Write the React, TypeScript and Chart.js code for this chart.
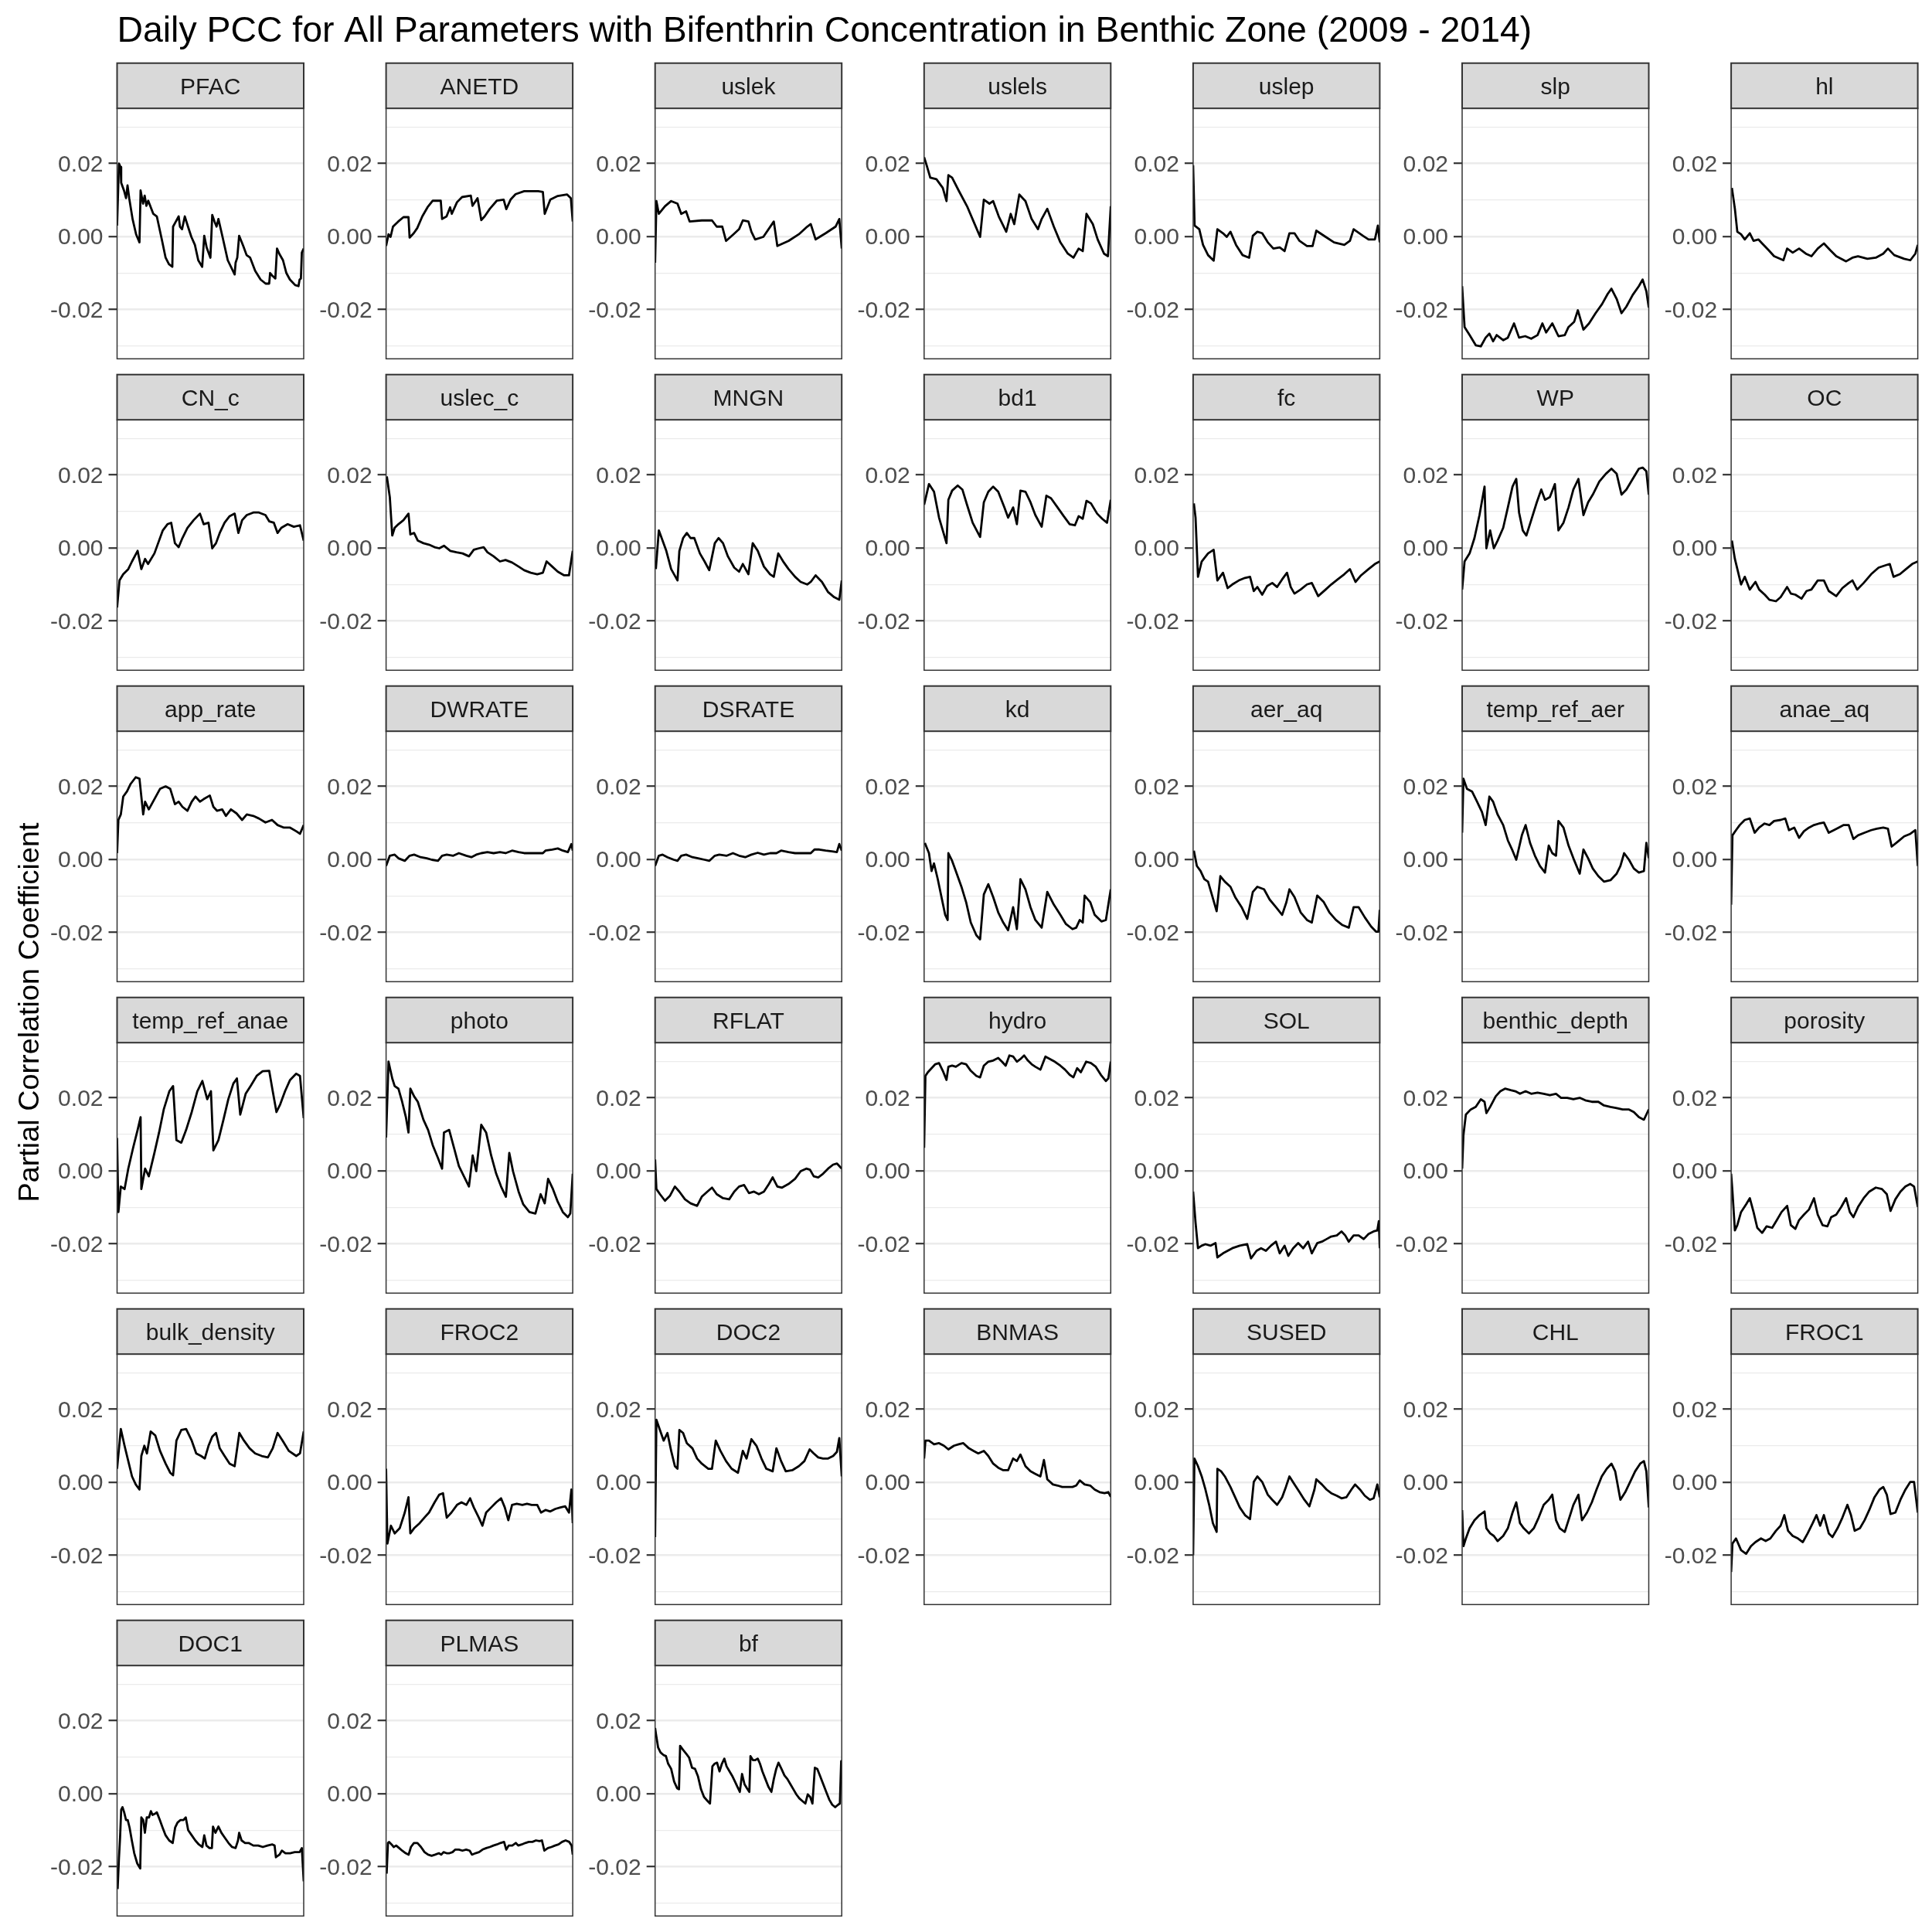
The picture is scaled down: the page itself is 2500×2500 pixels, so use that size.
import React, { useEffect, useRef } from "react";
import { Chart, registerables } from "chart.js";
Chart.register(...registerables);

type Pt = [number, number]; // [position along 2009-2014 period in %, partial correlation coefficient]

const TITLE = "Daily PCC for All Parameters with Bifenthrin Concentration in Benthic Zone (2009 - 2014)";
const Y_LABEL = "Partial Correlation Coefficient";
const Y_TICKS = [-0.03, -0.02, -0.01, 0, 0.01, 0.02, 0.03];
const Y_MIN = -0.0335;
const Y_MAX = 0.0351;

const PFAC: Pt[] = [[0,0.003],[1,0.020],[1.9,0.019],[2.2,0.0147],[3.7,0.0126],[4.8,0.0105],[5.6,0.014],[6.5,0.0105],[8.3,0.0048],[10.2,0.0006],[12,-0.0016],[12.6,0.0126],[13.9,0.009],[14.8,0.0112],[15.7,0.0084],[16.7,0.0098],[19.4,0.0062],[21.3,0.0055],[24,-0.0009],[26,-0.0058],[27.8,-0.0076],[29.6,-0.0083],[30,0.0027],[31.5,0.0041],[33,0.0055],[33.7,0.0027],[34.8,0.002],[36.3,0.0055],[38,0.0027],[39.8,-0.0001],[41.7,-0.0023],[43.5,-0.0065],[45.6,-0.0083],[46.7,0.0002],[48,-0.003],[50,-0.0058],[51,0.0059],[52.2,0.0041],[53.3,0.0027],[54.3,0.0048],[56.5,-0.0001],[59.3,-0.0065],[63,-0.0104],[63.5,-0.0072],[64.4,-0.0058],[65.4,0.0002],[67.6,-0.0026],[69.4,-0.0051],[71.3,-0.0058],[74,-0.0094],[76.9,-0.0118],[79.6,-0.0129],[81.5,-0.0129],[82,-0.01],[83.3,-0.0108],[84.8,-0.0115],[85.7,-0.0033],[87,-0.0048],[88.9,-0.0065],[90.7,-0.01],[92.6,-0.0118],[95.4,-0.0133],[97.2,-0.0136],[97.8,-0.0118],[98.5,-0.0115],[99,-0.0044],[100,-0.0033]];
const ANETD: Pt[] = [[0,-0.0026],[1.3,0.0006],[2.4,-0.0001],[3.7,0.0027],[6.5,0.0041],[9.3,0.0053],[12,0.0053],[12.6,-0.0003],[14.8,0.0009],[16.7,0.0023],[19.4,0.0055],[22.2,0.008],[25,0.0098],[29.3,0.0098],[30,0.0048],[32.4,0.0055],[34.3,0.008],[35.2,0.0062],[38,0.0094],[40.7,0.0108],[45.4,0.0112],[46.3,0.0084],[49,0.0105],[51,0.0045],[52.8,0.0055],[55.6,0.0076],[59.3,0.0098],[63,0.0101],[64.4,0.0075],[66.7,0.0101],[69.4,0.0116],[74,0.0124],[81.5,0.0124],[84,0.0122],[85,0.0062],[88,0.0101],[92,0.0111],[97,0.0115],[99,0.0105],[100,0.0041]];
const USLEK: Pt[] = [[0,-0.0072],[0.7,0.0097],[2,0.0062],[5.3,0.0083],[8.6,0.0097],[12,0.009],[14,0.0062],[16.6,0.0069],[18.5,0.0041],[25,0.0044],[30.5,0.0044],[33,0.0027],[36,0.0027],[38,-0.0012],[42,0.0006],[45,0.002],[47,0.0044],[50,0.0041],[51.6,0.0013],[53.6,-0.0008],[58,-0.0001],[63.6,0.0041],[65.5,-0.0026],[71.5,-0.0012],[77,0.0006],[81.5,0.0027],[83.4,0.0034],[86,-0.0008],[91.4,0.0009],[96.7,0.0027],[98.7,0.0048],[100,-0.0033]];
const USLELS: Pt[] = [[0,0.0217],[1.3,0.0196],[3.3,0.0161],[6.6,0.0157],[10,0.0133],[12,0.0097],[13,0.0168],[15,0.0161],[18.5,0.0126],[23,0.0083],[26.5,0.0041],[30,-0.0001],[32,0.0101],[35,0.009],[37,0.0097],[40,0.0055],[44,0.0013],[46.4,0.0062],[48.3,0.0034],[51,0.0115],[54.3,0.0097],[57.6,0.0048],[61,0.002],[63,0.0048],[66,0.0076],[69.5,0.0027],[73,-0.0016],[77,-0.0047],[80,-0.0058],[82.8,-0.0033],[85,-0.004],[87,0.0062],[90.4,0.0034],[93,-0.0008],[96.4,-0.0047],[98.5,-0.0054],[100,0.0083]];
const USLEP: Pt[] = [[0,0.0195],[0.8,0.003],[3.3,0.002],[5.3,-0.0023],[8,-0.0051],[11,-0.0066],[13,0.002],[16,0.0009],[18,-0.0001],[20,0.0013],[23,-0.0023],[26.5,-0.0051],[30,-0.0058],[32,0.0002],[34.4,0.0013],[37,0.0009],[40,-0.0016],[43,-0.0033],[46.4,-0.003],[49,-0.004],[51.6,0.0009],[54.3,0.0009],[57,-0.0012],[61,-0.0026],[64,-0.0026],[66,0.0016],[71,-0.0001],[75.5,-0.0016],[81,-0.0023],[84,-0.0012],[86,0.002],[91,0.0002],[94,-0.0008],[97.4,-0.0008],[99,0.003],[100,-0.0016]];
const SLP: Pt[] = [[0,-0.0136],[1.3,-0.0248],[4,-0.027],[7.3,-0.0298],[10,-0.0301],[12.6,-0.0277],[14.6,-0.0266],[16.6,-0.0287],[18.5,-0.027],[22,-0.0284],[24.5,-0.0277],[27.8,-0.0238],[30.5,-0.0277],[33.8,-0.0273],[37,-0.028],[40.4,-0.027],[43,-0.0238],[45,-0.0263],[48.3,-0.0238],[51.6,-0.0273],[55,-0.027],[57,-0.0248],[60,-0.0234],[62,-0.0202],[65,-0.0255],[68,-0.0238],[71.5,-0.021],[75,-0.0185],[78,-0.0157],[80,-0.0143],[82.8,-0.0171],[85.4,-0.021],[88,-0.0192],[91.4,-0.016],[94.7,-0.0136],[96.7,-0.0118],[98.7,-0.015],[100,-0.0195]];
const HL: Pt[] = [[0.4,0.0133],[2,0.0076],[3.3,0.0013],[5.3,0.0006],[7.3,-0.0008],[10,0.0009],[12,-0.0012],[14.6,-0.0008],[16.6,-0.0019],[20,-0.0037],[23,-0.0054],[28,-0.0065],[30,-0.0033],[33,-0.0044],[36.4,-0.0033],[40,-0.0047],[43,-0.0054],[46.4,-0.0033],[49.7,-0.0019],[53,-0.0037],[56.3,-0.0054],[61.6,-0.0068],[65,-0.0058],[68,-0.0054],[73,-0.0061],[77.5,-0.0058],[81.5,-0.0047],[84,-0.0033],[87.4,-0.0051],[92.7,-0.0061],[96,-0.0065],[98.7,-0.0047],[100,-0.0023]];

const CN_C: Pt[] = [[0,-0.0163],[1.3,-0.0089],[3.3,-0.0072],[6,-0.0058],[8,-0.0037],[11,-0.0008],[13,-0.0058],[15,-0.003],[16.6,-0.0044],[20,-0.0015],[22,0.0013],[24.5,0.0048],[27,0.0065],[29,0.0069],[31,0.0013],[33,0.0002],[35,0.0027],[37.7,0.0055],[41,0.0076],[44.4,0.0094],[46.4,0.0065],[49,0.0069],[51,-0.0001],[53,0.0013],[55,0.0041],[57.6,0.0069],[60.3,0.0087],[63,0.0094],[65,0.0041],[67,0.0076],[69.5,0.009],[73,0.0097],[76,0.0097],[79.5,0.009],[81.5,0.0073],[84,0.0069],[86,0.0041],[88,0.0055],[91.4,0.0065],[94.7,0.0058],[98,0.0062],[100,0.002]];
const USLEC_C: Pt[] = [[0.4,0.0196],[2,0.0139],[3.3,0.0034],[4.6,0.0055],[6.6,0.0065],[9.3,0.0076],[12,0.0094],[13,0.0037],[15,0.0041],[17,0.002],[20,0.0013],[23,0.0009],[26,0.0002],[28.5,-0.0001],[31,0.0006],[34.4,-0.0008],[37.7,-0.0012],[41,-0.0015],[44.4,-0.0023],[47,-0.0005],[49.7,-0.0001],[52.3,0.0002],[54.3,-0.0012],[57.6,-0.0023],[61,-0.0037],[64,-0.0033],[67.5,-0.004],[71,-0.0051],[74,-0.0061],[77.5,-0.0068],[81,-0.0072],[84,-0.0068],[86,-0.0037],[89,-0.0051],[92,-0.0065],[95.4,-0.0075],[98,-0.0075],[100,-0.0008]];
const MNGN: Pt[] = [[0.4,-0.0058],[2,0.0048],[4,0.002],[6,-0.0008],[8.6,-0.0058],[12,-0.0089],[13,-0.0008],[15,0.0027],[17,0.0041],[19,0.0027],[21,0.0027],[24,-0.0015],[26.5,-0.0037],[29,-0.0061],[32,0.0013],[34,0.0027],[36.4,0.0013],[39,-0.0023],[42.4,-0.0054],[45,-0.0065],[47,-0.0044],[50,-0.0072],[52.3,0.0013],[55,-0.0008],[58.3,-0.0051],[61.6,-0.0072],[63.6,-0.0079],[66,-0.0015],[69,-0.004],[71.5,-0.0058],[75,-0.0079],[78,-0.0093],[81.5,-0.01],[83.4,-0.0093],[86,-0.0075],[89.4,-0.0093],[92.7,-0.0121],[96,-0.0135],[98.7,-0.0142],[100,-0.0089]];
const BD1: Pt[] = [[0,0.0118],[2.6,0.0175],[5.3,0.0154],[8,0.0083],[10,0.0048],[12,0.0013],[13,0.0132],[15,0.0157],[18,0.0171],[20.5,0.016],[23,0.0118],[26,0.0069],[30,0.003],[32,0.0125],[34.4,0.0154],[37,0.0168],[39.7,0.0154],[43,0.0111],[45,0.0083],[47.7,0.0111],[49.7,0.0065],[51.6,0.0157],[54.3,0.0154],[57,0.0125],[59.6,0.009],[63,0.0058],[65.5,0.0143],[68,0.0136],[71.5,0.0111],[74.8,0.0087],[78,0.0065],[80.8,0.0062],[82.8,0.0087],[85,0.008],[87,0.0129],[89.4,0.0122],[92.7,0.0094],[95.4,0.008],[98,0.0069],[100,0.0132]];
const FC: Pt[] = [[0.4,0.0122],[1.3,0.0083],[2.6,-0.0079],[4.6,-0.0037],[8,-0.0015],[11,-0.0005],[13,-0.0089],[16,-0.0068],[18.5,-0.011],[21,-0.01],[24.5,-0.0089],[27.8,-0.0082],[30.5,-0.0079],[32.5,-0.0118],[34.4,-0.0107],[37,-0.0128],[39.7,-0.0104],[42.4,-0.0096],[45,-0.0107],[47.7,-0.0086],[50.3,-0.0068],[52.3,-0.0107],[54.3,-0.0125],[57.6,-0.0114],[61,-0.01],[63.6,-0.0096],[67,-0.0132],[71,-0.0114],[74,-0.01],[77.5,-0.0086],[81,-0.0072],[84,-0.0058],[87,-0.0093],[90,-0.0075],[94,-0.0058],[97.4,-0.0044],[100,-0.0037]];
const WP: Pt[] = [[0,-0.0114],[1.3,-0.0037],[4,-0.0015],[6.6,0.0027],[9.3,0.009],[12,0.0168],[13,-0.0001],[15,0.0048],[17,-0.0001],[19,0.002],[22,0.0055],[24.5,0.0111],[27,0.0168],[29,0.0189],[30.5,0.0097],[32.5,0.0048],[34.4,0.0034],[37,0.0076],[40,0.0125],[42.4,0.016],[44.4,0.0132],[47,0.0139],[49.7,0.0175],[51.6,0.0048],[54.3,0.0069],[57,0.0111],[59.6,0.016],[62.3,0.0189],[65,0.009],[67.5,0.0125],[70,0.0146],[73.5,0.0182],[77,0.0203],[80,0.0217],[82.8,0.0203],[85.4,0.0146],[88,0.016],[91.4,0.0189],[94.7,0.0217],[96.7,0.022],[98.7,0.021],[100,0.0146]];
const OC: Pt[] = [[0.4,0.002],[2,-0.003],[4,-0.0072],[5.3,-0.01],[7.3,-0.0079],[10,-0.0114],[13,-0.0093],[15,-0.0114],[18,-0.0128],[20.5,-0.0142],[24,-0.0146],[26.5,-0.0135],[30,-0.0107],[32,-0.0125],[34.4,-0.0128],[37.7,-0.0139],[40.4,-0.0118],[43,-0.0114],[46.4,-0.0089],[49.7,-0.0089],[52.3,-0.0118],[56.3,-0.0132],[59.6,-0.011],[63,-0.0096],[65,-0.0089],[67.5,-0.0114],[71,-0.0096],[75,-0.0072],[79,-0.0054],[83,-0.0047],[85,-0.0044],[87,-0.0079],[90.4,-0.0072],[93.7,-0.0058],[97,-0.0044],[100,-0.0037]];

const APP_RATE: Pt[] = [[0,0.0017],[0.7,0.0108],[2,0.0123],[3.3,0.0172],[5.3,0.0186],[7.3,0.0207],[10,0.0225],[12,0.0221],[14,0.0123],[15,0.0158],[17,0.0137],[20,0.0165],[23,0.0193],[26,0.02],[28.5,0.0193],[31,0.0151],[33,0.0158],[35,0.0144],[37.7,0.0133],[40,0.0158],[42,0.0172],[44.4,0.0158],[46.4,0.0165],[49.7,0.0175],[51.6,0.0144],[53.6,0.0133],[56.3,0.0137],[58.3,0.0119],[61,0.0137],[64,0.0126],[67,0.0108],[69.5,0.0123],[73,0.0119],[76,0.0112],[79.5,0.0101],[83,0.0108],[86,0.0094],[89.4,0.0087],[92.7,0.0087],[96,0.0077],[98,0.007],[100,0.0094]];
const DWRATE: Pt[] = [[0,-0.0018],[2,0.001],[4.6,0.0013],[6.6,0.0003],[10,-0.0004],[12.6,0.001],[15,0.0013],[18.5,0.0006],[21.8,0.0003],[24.5,-0.0001],[27.8,-0.0004],[30,0.001],[32.5,0.0013],[36,0.001],[39,0.0017],[43,0.001],[45.7,0.0006],[48.3,0.0013],[51,0.0017],[54.3,0.002],[57.6,0.0017],[61,0.002],[64,0.0017],[67.5,0.0024],[71,0.002],[74,0.0017],[77.5,0.0017],[81,0.0017],[84,0.0017],[85.4,0.0024],[89,0.0027],[92,0.003],[94.7,0.0024],[97.4,0.002],[99.3,0.0042],[100,0.0024]];
const DSRATE: Pt[] = [[0,-0.0018],[2,0.001],[4,0.0013],[6.6,0.0006],[10,-0.0001],[12,-0.0004],[14,0.001],[16.6,0.0013],[20,0.0006],[23,0.0003],[26.5,-0.0001],[29,-0.0004],[32,0.001],[34.4,0.0013],[38.4,0.001],[41.7,0.0017],[45,0.001],[48.3,0.0006],[51.6,0.0013],[55,0.0018],[58.3,0.0013],[61.6,0.0017],[65,0.0017],[67.5,0.0024],[71.5,0.002],[75,0.0017],[78,0.0017],[81.5,0.0017],[83.4,0.0017],[85.4,0.0027],[88,0.0027],[91.4,0.0024],[94.7,0.0022],[97.4,0.002],[98.7,0.0042],[100,0.0024]];
const KD: Pt[] = [[0.4,0.0045],[2.6,0.0017],[4,-0.0032],[5.3,-0.0011],[7.3,-0.0054],[9.3,-0.0103],[11.3,-0.0152],[12.6,-0.0166],[13,0.0017],[15,-0.0004],[17,-0.0032],[20,-0.0075],[22.5,-0.0117],[25,-0.0173],[28,-0.0208],[30,-0.0219],[32,-0.0096],[34.4,-0.0068],[37,-0.0103],[39.7,-0.0145],[42.4,-0.0173],[45,-0.0194],[47.7,-0.0131],[49.7,-0.0191],[51.6,-0.0054],[54.3,-0.0082],[57,-0.0131],[59.6,-0.0166],[63,-0.0187],[66,-0.0089],[69.5,-0.0124],[73,-0.0152],[76,-0.0177],[79.5,-0.0191],[81.5,-0.0187],[83.4,-0.0166],[85,-0.0173],[86,-0.0099],[89,-0.0117],[91.4,-0.0152],[95,-0.017],[97.4,-0.0166],[100,-0.0082]];
const AER_AQ: Pt[] = [[0.4,0.0024],[2,-0.0018],[4,-0.0032],[6,-0.0054],[8,-0.0061],[10,-0.0096],[12.6,-0.0142],[14.6,-0.0046],[17,-0.0061],[20,-0.0075],[22.5,-0.0103],[26,-0.0131],[29,-0.0163],[32,-0.0089],[34.4,-0.0075],[38,-0.0082],[41,-0.011],[44.4,-0.0131],[47.7,-0.0152],[50,-0.0117],[51.6,-0.0082],[54.3,-0.0103],[57.6,-0.0145],[61,-0.0166],[63.6,-0.0173],[66.5,-0.0099],[70,-0.0117],[73,-0.0145],[76.5,-0.0166],[80,-0.018],[83.4,-0.0187],[86,-0.0131],[88.7,-0.0131],[92,-0.0159],[95.4,-0.0184],[98,-0.0198],[99.3,-0.0198],[100,-0.0138]];
const TEMP_REF_AER: Pt[] = [[0,0.0073],[0.7,0.0221],[2.6,0.0193],[5.3,0.0186],[8,0.0158],[10.6,0.013],[12.6,0.0094],[14.6,0.0172],[16.6,0.0158],[19,0.0123],[22,0.0094],[24.5,0.0052],[27,0.0024],[29,-0.0001],[32,0.0066],[34,0.0094],[36.4,0.0045],[39,0.001],[41.7,-0.0018],[44.4,-0.0036],[46.4,0.0038],[48.3,0.0017],[50.3,0.001],[51.6,0.0105],[54.3,0.0087],[57,0.0038],[59.6,0.0003],[63,-0.0039],[65,0.0027],[67.5,0.0003],[70,-0.0025],[73,-0.0046],[76,-0.0061],[79.5,-0.0057],[82.8,-0.0039],[84.8,-0.0018],[86.8,0.0017],[89.4,-0.0001],[92,-0.0025],[94.7,-0.0036],[97.4,-0.0032],[98.7,0.0045],[100,0.0003]];
const ANAE_AQ: Pt[] = [[0,-0.0124],[0.7,0.0066],[2.6,0.008],[4.6,0.0094],[7.3,0.0108],[10,0.0112],[12.6,0.0073],[15,0.0087],[17.9,0.0098],[20.5,0.0094],[23,0.0105],[26.5,0.0108],[29,0.0112],[31,0.008],[33.8,0.0087],[36.4,0.0059],[39,0.0077],[41.7,0.0087],[44.4,0.0094],[47,0.0098],[49.7,0.0101],[52.3,0.0073],[55,0.008],[57.6,0.0087],[60.3,0.0094],[63,0.0094],[65.5,0.0056],[68,0.0066],[71.5,0.0073],[75,0.008],[78,0.0084],[81.5,0.0087],[84,0.0084],[86,0.0035],[89.4,0.0049],[92.7,0.0063],[96,0.007],[98.7,0.008],[100,-0.0018]];

const TEMP_REF_ANAE: Pt[] = [[0,0.009],[0.7,-0.0113],[2,-0.0043],[4,-0.005],[6,0.0006],[8.6,0.0063],[11,0.0112],[12.6,0.0147],[13,-0.005],[15,0.0006],[17,-0.0015],[20,0.0049],[22.5,0.0105],[25,0.0168],[28,0.0218],[30,0.0232],[31.8,0.0084],[34.4,0.0077],[37,0.0112],[40,0.0161],[43,0.0218],[45.7,0.0246],[48.3,0.0196],[50.3,0.0218],[51.6,0.0056],[54.3,0.0084],[57,0.014],[59.6,0.0196],[62.3,0.0239],[64.2,0.0253],[66,0.0154],[68.9,0.0211],[71.5,0.0232],[74.8,0.026],[78,0.0273],[81.5,0.0274],[83.4,0.0218],[85.4,0.0161],[87.4,0.0182],[90,0.0218],[92.7,0.0249],[96,0.0266],[98,0.026],[100,0.0144]];
const PHOTO: Pt[] = [[0,0.0091],[1.3,0.0299],[3.3,0.0253],[4.6,0.0232],[6.6,0.0225],[8.6,0.0189],[10.6,0.0147],[12,0.0105],[13,0.0225],[15,0.0204],[17,0.0189],[20,0.014],[22.5,0.0112],[25,0.007],[27.8,0.0035],[30,0.0006],[31,0.0105],[33.8,0.0112],[36.4,0.0063],[39,0.0013],[41.7,-0.0015],[44.4,-0.0043],[46.4,0.0042],[48.3,-0.0001],[51,0.0126],[53.6,0.0105],[56.3,0.0042],[59,-0.0008],[61.6,-0.0043],[64.2,-0.0071],[66,0.0049],[68,-0.0001],[71,-0.0057],[73.5,-0.0092],[76.8,-0.0113],[80,-0.0117],[82.8,-0.0064],[85,-0.0089],[86.8,-0.0022],[89.4,-0.005],[92,-0.0085],[94.7,-0.0113],[97.4,-0.0127],[98.7,-0.0117],[100,-0.0008]];
const RFLAT: Pt[] = [[0,0.0031],[0.7,-0.005],[2.6,-0.0064],[5.3,-0.0082],[8,-0.0068],[10.6,-0.0043],[13,-0.0057],[16,-0.0078],[19,-0.0089],[22.5,-0.0096],[25,-0.0071],[28,-0.0057],[30.5,-0.0046],[33,-0.0064],[36.4,-0.0075],[39.7,-0.0078],[42.4,-0.0057],[45,-0.0043],[47.7,-0.0039],[50.3,-0.0061],[53,-0.0057],[55.6,-0.0064],[58.3,-0.0057],[61,-0.0036],[63,-0.0018],[65.5,-0.0043],[68,-0.0046],[71.5,-0.0036],[75,-0.0022],[78,-0.0001],[81,0.0006],[83,0.0003],[85,-0.0015],[87.4,-0.0018],[90,-0.0008],[92.7,0.0006],[95.4,0.0017],[97.4,0.002],[100,0.0006]];
const HYDRO: Pt[] = [[0,0.0063],[0.7,0.026],[2,0.027],[4,0.0281],[6,0.0292],[8,0.0295],[10,0.0274],[12,0.0249],[13,0.0285],[15,0.0288],[17,0.0285],[20,0.0295],[22.5,0.0292],[25,0.0274],[28,0.026],[30,0.0256],[32,0.0288],[34.4,0.0299],[37,0.0302],[39.7,0.0309],[41.7,0.0299],[43.7,0.0288],[45.7,0.0316],[47.7,0.0313],[49.7,0.0299],[51.6,0.0306],[53.6,0.0316],[55.6,0.0302],[57.6,0.0292],[59.6,0.0285],[62.3,0.0277],[65,0.0313],[67.5,0.0306],[70,0.0299],[73,0.0288],[75.5,0.0277],[78,0.0263],[80,0.0256],[82,0.0281],[84,0.027],[86.8,0.0299],[89.4,0.0295],[92,0.0285],[94.7,0.0263],[97.4,0.0246],[98.7,0.0253],[100,0.0299]];
const SOL: Pt[] = [[0,-0.0057],[1.3,-0.0142],[2.6,-0.0212],[4.6,-0.0205],[6.6,-0.0201],[9.3,-0.0205],[12,-0.0198],[13,-0.0237],[16,-0.0226],[18.5,-0.0219],[21,-0.0212],[25,-0.0205],[29,-0.0201],[31,-0.024],[34,-0.0219],[36.4,-0.0212],[39,-0.0219],[41.7,-0.0205],[44.4,-0.0194],[46.4,-0.0226],[49,-0.0205],[51,-0.0233],[53.6,-0.0212],[56.3,-0.0198],[59,-0.0212],[61.6,-0.0194],[63.6,-0.0226],[66.5,-0.0198],[69,-0.0194],[71.5,-0.0187],[74,-0.018],[77,-0.0177],[79.5,-0.0166],[81.5,-0.0177],[83.4,-0.0194],[86,-0.0177],[88.7,-0.0177],[91.4,-0.0187],[94,-0.0173],[96.7,-0.0166],[98.7,-0.0163],[99.5,-0.0138],[100,-0.0212]];
const BENTHIC_DEPTH: Pt[] = [[0,0.0006],[0.7,0.0098],[2,0.0154],[4.6,0.0168],[7.3,0.0175],[10,0.0196],[12,0.0189],[13,0.0158],[15,0.0175],[18,0.0204],[20.5,0.0218],[23,0.0225],[26,0.0221],[28.5,0.0218],[31,0.0211],[34,0.0218],[37,0.0211],[40.4,0.0214],[43.7,0.0211],[47,0.0207],[50.3,0.0211],[53,0.02],[56.3,0.02],[59.6,0.0196],[63,0.02],[66,0.0193],[69.5,0.0189],[73,0.0189],[76,0.0179],[79.5,0.0175],[82.8,0.0172],[86,0.0168],[89.4,0.0168],[92,0.0161],[94.7,0.0147],[97.4,0.014],[98.7,0.0154],[100,0.0168]];
const POROSITY: Pt[] = [[0,-0.0008],[0.7,-0.0057],[2,-0.0163],[3.3,-0.0149],[5.3,-0.0113],[8,-0.0092],[10,-0.0075],[12,-0.0113],[14,-0.0156],[16.6,-0.017],[19,-0.0152],[22,-0.0156],[24.5,-0.0135],[27,-0.0113],[30,-0.0096],[32,-0.0149],[34.4,-0.0159],[36.4,-0.0135],[39,-0.012],[41.7,-0.0106],[44.4,-0.0075],[46.4,-0.012],[49,-0.0149],[51.6,-0.0152],[53.6,-0.0127],[56.3,-0.012],[59,-0.0099],[61.6,-0.0075],[63.6,-0.0113],[65.5,-0.0127],[68,-0.0099],[71,-0.0075],[74,-0.0057],[77.5,-0.0046],[80.8,-0.005],[83.4,-0.0064],[85.4,-0.011],[88,-0.0078],[90.7,-0.0057],[93.4,-0.0043],[96,-0.0036],[98,-0.0043],[100,-0.0099]];

const BULK_DENSITY: Pt[] = [[0,0.0037],[2,0.0146],[4,0.01],[6,0.0058],[8,0.0016],[10,-0.0006],[12,-0.002],[13,0.0072],[14.6,0.01],[16,0.0079],[18,0.0139],[20.5,0.0128],[23,0.0086],[26,0.0051],[28.5,0.0026],[30,0.0019],[31.8,0.0114],[34.4,0.0143],[37,0.0146],[40,0.0114],[42.4,0.0079],[45,0.0072],[47,0.0065],[49,0.01],[51,0.0125],[53,0.0135],[55,0.0093],[57.6,0.0072],[60.3,0.0051],[63,0.0044],[65.5,0.0135],[68,0.0114],[71,0.0093],[74,0.0079],[77.5,0.0072],[80.8,0.0068],[83.4,0.0093],[86,0.0135],[88.7,0.0114],[92,0.0086],[96,0.0072],[98,0.0079],[100,0.0139]];
const FROC2: Pt[] = [[0,0.0037],[0.7,-0.0168],[2.6,-0.0119],[4.6,-0.014],[7.3,-0.0126],[10,-0.0083],[12,-0.0041],[13,-0.014],[15,-0.0126],[18,-0.0112],[20.5,-0.0097],[23,-0.0083],[26,-0.0055],[28.5,-0.0034],[30.5,-0.003],[32.5,-0.0097],[35,-0.0083],[38,-0.0062],[40.4,-0.0055],[43,-0.0062],[45,-0.0044],[47,-0.0069],[49.7,-0.0097],[51.6,-0.0119],[53.6,-0.0083],[56.3,-0.0069],[59,-0.0055],[61.6,-0.0044],[63.6,-0.0069],[65.5,-0.0104],[67.5,-0.0062],[70,-0.0059],[73,-0.0062],[75.5,-0.0059],[78,-0.0062],[81,-0.0062],[83,-0.0083],[85.4,-0.0076],[88,-0.008],[90.7,-0.0073],[93.4,-0.0069],[96,-0.0066],[98,-0.0083],[99.3,-0.002],[100,-0.0112]];
const DOC2: Pt[] = [[0,-0.015],[0.7,0.0171],[2.6,0.0143],[4.6,0.0114],[6.6,0.0135],[8.6,0.0086],[10.6,0.0044],[12,0.0037],[13,0.0143],[15,0.0135],[17,0.0107],[20,0.0093],[22.5,0.0065],[25,0.0051],[28.5,0.0037],[30.5,0.0037],[32.5,0.0114],[35,0.0086],[38,0.0058],[41,0.0037],[44.4,0.0026],[47,0.0086],[49,0.0065],[51.6,0.0118],[54.3,0.01],[57,0.0065],[59.6,0.0037],[63,0.003],[65,0.0093],[67.5,0.0058],[70,0.003],[73.5,0.0033],[77,0.0044],[80,0.0058],[82.8,0.009],[85,0.0079],[87.4,0.0068],[90,0.0065],[92.7,0.0065],[95.4,0.0072],[97.4,0.0083],[98.7,0.0121],[100,0.0016]];
const BNMAS: Pt[] = [[0,0.0065],[0.7,0.0114],[2.6,0.0114],[5.3,0.0104],[8,0.0107],[10.6,0.01],[13,0.009],[16,0.01],[18.5,0.0104],[21,0.0107],[24,0.0093],[26.5,0.0086],[29,0.0079],[32,0.0086],[34.4,0.0072],[37,0.0051],[39.7,0.004],[42.4,0.0033],[45,0.0033],[47.7,0.0065],[49.7,0.0058],[51.6,0.0076],[54.3,0.0044],[57,0.003],[59.6,0.0023],[62.3,0.0016],[64.2,0.0061],[66,0.0008],[69,-0.0006],[71.5,-0.0009],[74,-0.0013],[77,-0.0013],[79.5,-0.0013],[81.5,-0.0009],[83.4,0.0005],[86,-0.0006],[89,-0.0009],[91.4,-0.002],[94,-0.0027],[96.7,-0.003],[98.7,-0.0027],[100,-0.004]];
const SUSED: Pt[] = [[0,-0.02],[0.7,0.0065],[2.6,0.0044],[4.6,0.0016],[6.6,-0.002],[8.6,-0.0062],[10.6,-0.0112],[12.6,-0.0136],[13,0.0037],[15,0.003],[17,0.0016],[20,-0.0013],[22.5,-0.0041],[25,-0.0069],[27.8,-0.009],[30.5,-0.0101],[32.5,0.0001],[34.4,0.0016],[37,0.0001],[40,-0.0034],[42.4,-0.0048],[45,-0.0062],[47.7,-0.0041],[49.7,-0.0013],[51.6,0.0016],[54.3,-0.0006],[57,-0.0027],[59.6,-0.0048],[62.3,-0.0066],[65,-0.002],[66,0.0008],[69,-0.0006],[71.5,-0.002],[74,-0.003],[77,-0.0037],[79.5,-0.0044],[82.1,-0.0041],[84.8,-0.002],[86.8,-0.0006],[89.4,-0.002],[92,-0.0037],[94.7,-0.0048],[96.7,-0.0044],[98.7,-0.0006],[100,-0.0041]];
const CHL: Pt[] = [[0,-0.0076],[0.7,-0.0175],[2,-0.0154],[4,-0.0126],[6.6,-0.0104],[9.3,-0.009],[12,-0.008],[13,-0.0126],[15,-0.014],[17,-0.0147],[19,-0.0161],[22,-0.0147],[24.5,-0.0126],[27,-0.0083],[29,-0.0055],[31,-0.0112],[33,-0.0126],[35.8,-0.014],[38.4,-0.0126],[41,-0.0097],[43.7,-0.0062],[46.4,-0.0048],[48.3,-0.0034],[50.3,-0.0104],[52.3,-0.0126],[55,-0.0136],[57,-0.0104],[59.6,-0.0062],[62.3,-0.0034],[64.2,-0.0104],[66.9,-0.0083],[69.5,-0.0055],[72,-0.002],[74.8,0.0016],[77.5,0.0037],[80,0.0051],[82,0.003],[84.8,-0.0048],[87.4,-0.0027],[90,0.0001],[92.7,0.003],[95.4,0.0051],[97.4,0.0058],[98.7,0.003],[100,-0.0069]];
const FROC1: Pt[] = [[0,-0.0246],[0.7,-0.0168],[2.6,-0.0154],[5.3,-0.0186],[8,-0.0196],[10.6,-0.0175],[13,-0.0164],[16,-0.0154],[18.5,-0.0161],[21,-0.0154],[24,-0.0133],[26.5,-0.0119],[28.5,-0.009],[30.5,-0.0133],[33,-0.0147],[35.8,-0.0154],[38.4,-0.0164],[41,-0.014],[43.7,-0.0112],[45.7,-0.009],[47.7,-0.0119],[49.7,-0.009],[52.3,-0.014],[54.3,-0.015],[57,-0.0126],[59.6,-0.0097],[62.3,-0.0062],[64.2,-0.009],[66.2,-0.0133],[69,-0.0126],[71.5,-0.0104],[74,-0.0076],[76.8,-0.0041],[79.5,-0.002],[81.5,-0.0013],[83.4,-0.0034],[85.4,-0.0087],[88,-0.0083],[90.7,-0.0048],[93.4,-0.002],[96,0.0001],[98,0.0001],[100,-0.0083]];

const DOC1: Pt[] = [[0.3,-0.0261],[1,-0.0177],[1.6,-0.0121],[2.2,-0.0044],[2.9,-0.0037],[3.8,-0.0051],[4.8,-0.0072],[5.7,-0.0072],[6.7,-0.0093],[7.9,-0.0128],[9.2,-0.0163],[10.8,-0.0191],[12.4,-0.0205],[13,-0.0065],[14,-0.0072],[14.9,-0.0107],[15.9,-0.0065],[17.1,-0.0065],[18.1,-0.0048],[19,-0.0058],[20.3,-0.0055],[21.3,-0.0051],[22.9,-0.0072],[24.4,-0.0093],[26,-0.0114],[27.9,-0.0128],[29.8,-0.0135],[31.1,-0.0093],[32.4,-0.0079],[34,-0.0072],[35.6,-0.0072],[36.8,-0.0065],[38.1,-0.01],[40,-0.0114],[41.9,-0.0128],[43.8,-0.0139],[45.7,-0.0146],[46.7,-0.0114],[47.9,-0.0142],[49.5,-0.0149],[50.8,-0.0149],[51.4,-0.009],[52.7,-0.0107],[54.3,-0.009],[55.9,-0.0107],[57.8,-0.0121],[59.7,-0.0135],[61.6,-0.0146],[63.5,-0.0149],[64.8,-0.0128],[65.4,-0.0107],[66.7,-0.0128],[68.6,-0.0135],[70.5,-0.0135],[73,-0.0142],[75.6,-0.0142],[78.1,-0.0146],[80.6,-0.0142],[83.2,-0.0139],[84.4,-0.0142],[85.1,-0.0174],[87,-0.0167],[88.3,-0.0156],[90.2,-0.0163],[92.7,-0.0163],[95.2,-0.016],[97.8,-0.016],[99,-0.0149],[100,-0.024]];
const PLMAS: Pt[] = [[0.3,-0.0219],[1,-0.0135],[1.6,-0.0132],[2.9,-0.0139],[4.1,-0.0146],[5.4,-0.0142],[7,-0.0149],[8.6,-0.0156],[10.5,-0.0163],[12.1,-0.0167],[13.3,-0.0146],[14.9,-0.0135],[16.8,-0.0135],[18.7,-0.0146],[20.6,-0.016],[22.5,-0.0167],[24.4,-0.017],[26.3,-0.0167],[28.3,-0.0163],[29.5,-0.0167],[30.8,-0.016],[32.4,-0.0163],[34,-0.0163],[35.6,-0.016],[37.1,-0.0153],[39,-0.0153],[40.9,-0.0156],[42.9,-0.0153],[44.8,-0.0156],[46,-0.0167],[47.9,-0.0163],[49.8,-0.016],[51.7,-0.0153],[53.7,-0.0149],[55.6,-0.0146],[57.5,-0.0142],[59.4,-0.0139],[61.3,-0.0135],[63.2,-0.0132],[64.4,-0.0153],[65.7,-0.0142],[67.6,-0.0142],[69.5,-0.0135],[70.8,-0.0142],[72.7,-0.0139],[74.6,-0.0135],[76.5,-0.0132],[78.4,-0.0132],[80.3,-0.0128],[82.2,-0.013],[83.5,-0.0128],[84.8,-0.0156],[86.7,-0.0149],[88.6,-0.0146],[90.5,-0.0142],[92.4,-0.0139],[94.3,-0.0132],[96.2,-0.0128],[98.1,-0.0132],[99.4,-0.0142],[100,-0.0167]];
const BF: Pt[] = [[0,0.018],[0.6,0.0159],[1.6,0.0127],[2.9,0.0113],[4.5,0.0106],[5.8,0.0103],[7,0.0082],[8.6,0.0068],[10.2,0.0033],[11.8,0.0015],[12.8,0.0012],[13.4,0.0131],[15,0.012],[16.6,0.011],[18.2,0.0099],[19.8,0.0071],[21.4,0.0068],[23,0.0047],[24.6,0.0012],[26.2,-0.0009],[28.1,-0.002],[29.4,-0.0027],[30.7,0.0075],[31.9,0.0082],[33.2,0.0085],[34.5,0.0061],[35.8,0.0082],[37.1,0.0096],[38.3,0.0075],[39.9,0.0061],[41.5,0.0047],[42.8,0.0033],[44.1,0.0019],[45.4,0.0005],[46.6,0.0054],[47.9,0.0026],[49.2,0.0015],[50.5,0.0005],[51.1,0.0103],[52.4,0.0092],[53.7,0.0092],[55,0.0096],[56.2,0.0082],[57.5,0.0061],[59.1,0.004],[60.7,0.0019],[62.3,0.0005],[63.6,0.004],[64.9,0.0068],[66.1,0.0085],[67.7,0.0068],[69.3,0.005],[70.9,0.004],[72.5,0.0026],[74.1,0.0012],[75.7,-0.0002],[77.3,-0.0013],[78.9,-0.002],[80.5,-0.0027],[81.8,-0.0002],[83.1,-0.0009],[84.3,-0.0027],[85.6,0.0071],[86.9,0.0068],[88.5,0.0047],[90.1,0.0026],[91.7,0.0005],[93.3,-0.0016],[94.9,-0.003],[96.5,-0.0037],[98.1,-0.003],[99,-0.0027],[99.7,0.0089],[100,0.004]];

const PARAMETERS = [
  "PFAC", "ANETD", "uslek", "uslels", "uslep", "slp", "hl",
  "CN_c", "uslec_c", "MNGN", "bd1", "fc", "WP", "OC",
  "app_rate", "DWRATE", "DSRATE", "kd", "aer_aq", "temp_ref_aer", "anae_aq",
  "temp_ref_anae", "photo", "RFLAT", "hydro", "SOL", "benthic_depth", "porosity",
  "bulk_density", "FROC2", "DOC2", "BNMAS", "SUSED", "CHL", "FROC1",
  "DOC1", "PLMAS", "bf",
];
const SERIES: Pt[][] = [
  PFAC, ANETD, USLEK, USLELS, USLEP, SLP, HL,
  CN_C, USLEC_C, MNGN, BD1, FC, WP, OC,
  APP_RATE, DWRATE, DSRATE, KD, AER_AQ, TEMP_REF_AER, ANAE_AQ,
  TEMP_REF_ANAE, PHOTO, RFLAT, HYDRO, SOL, BENTHIC_DEPTH, POROSITY,
  BULK_DENSITY, FROC2, DOC2, BNMAS, SUSED, CHL, FROC1,
  DOC1, PLMAS, BF,
];

const FONT = '"Liberation Sans", Arial, Helvetica, sans-serif';
const NCOL = 7;
const COL0 = 151.5;
const COL_STEP = 348.1;
const PANEL_W = 241.5;
const ROW0 = 81.7;
const ROW_STEP = 403;
const STRIP_H = 58.5;
const PLOT_H = 324.1;
const AXIS_W = 130;

const isMajor = (v: number) => Math.abs(Math.round(v * 100)) % 2 === 0;

function Panel({ name, points, col, row }: { name: string; points: Pt[]; col: number; row: number }) {
  const ref = useRef<HTMLCanvasElement | null>(null);
  const plotLeft = COL0 + col * COL_STEP;
  const stripTop = ROW0 + row * ROW_STEP;
  const cLeft = Math.floor(plotLeft - AXIS_W);
  const cTop = Math.floor(stripTop - 12);
  const axisW = plotLeft - cLeft;
  const padTop = stripTop + STRIP_H - cTop;
  const cH = Math.ceil(padTop + PLOT_H + 30);
  const padBottom = cH - padTop - PLOT_H;
  const cW = Math.ceil(axisW + PANEL_W + 12);
  const padRight = cW - axisW - PANEL_W;

  useEffect(() => {
    const stripPlugin = {
      id: "facetStrip",
      afterDraw(chart: any) {
        const { ctx, chartArea } = chart;
        ctx.save();
        ctx.strokeStyle = "#333333";
        ctx.lineWidth = 1.5;
        ctx.strokeRect(chartArea.left, chartArea.top, chartArea.right - chartArea.left, chartArea.bottom - chartArea.top);
        const sTop = stripTop - cTop;
        const w = chartArea.right - chartArea.left;
        ctx.fillStyle = "#D9D9D9";
        ctx.fillRect(chartArea.left, sTop, w, STRIP_H);
        ctx.strokeStyle = "#333333";
        ctx.lineWidth = 2;
        ctx.strokeRect(chartArea.left, sTop, w, STRIP_H);
        ctx.fillStyle = "#1A1A1A";
        ctx.font = `30px ${FONT}`;
        ctx.textAlign = "center";
        ctx.textBaseline = "alphabetic";
        ctx.fillText(name, chartArea.left + w / 2, sTop + STRIP_H / 2 + 10.8);
        ctx.restore();
      },
    };
    const chart = new Chart(ref.current as HTMLCanvasElement, {
      type: "line",
      data: {
        datasets: [
          {
            data: points.map(([t, v]) => ({ x: t, y: v })),
            borderColor: "#000000",
            borderWidth: 2.8,
            borderJoinStyle: "round",
            borderCapStyle: "butt",
            pointRadius: 0,
            tension: 0,
            fill: false,
          },
        ],
      },
      options: {
        responsive: false,
        animation: false,
        devicePixelRatio: 1,
        events: [],
        layout: { padding: { top: padTop, bottom: padBottom, left: 0, right: padRight } },
        plugins: { legend: { display: false }, tooltip: { enabled: false }, title: { display: false } },
        scales: {
          x: { type: "linear", min: 0, max: 100, display: false },
          y: {
            type: "linear",
            min: Y_MIN,
            max: Y_MAX,
            afterFit: (s: any) => {
              s.width = axisW;
            },
            afterBuildTicks: (s: any) => {
              s.ticks = Y_TICKS.map((value) => ({ value }));
            },
            ticks: {
              autoSkip: false,
              padding: 7,
              labelOffset: 2,
              color: "#4D4D4D",
              font: { family: FONT, size: 30 },
              callback: (v: any) => (isMajor(Number(v)) ? Number(v).toFixed(2) : ""),
            },
            grid: {
              color: "#EBEBEB",
              lineWidth: (c: any) => (isMajor(c.tick.value) ? 2.4 : 1.2),
              tickLength: 11,
              tickWidth: 2.2,
              tickColor: (c: any) => (isMajor(c.tick.value) ? "#333333" : "rgba(0,0,0,0)"),
              drawOnChartArea: true,
              drawTicks: true,
            },
            border: { display: false },
          },
        },
      } as any,
      plugins: [stripPlugin as any],
    });
    return () => chart.destroy();
  }, []);

  return (
    <canvas
      ref={ref}
      width={cW}
      height={cH}
      style={{ position: "absolute", left: cLeft, top: cTop, width: cW, height: cH }}
    />
  );
}

function TextLayer() {
  const titleRef = useRef<HTMLCanvasElement | null>(null);
  const labelRef = useRef<HTMLCanvasElement | null>(null);
  useEffect(() => {
    const t = titleRef.current!.getContext("2d")!;
    t.clearRect(0, 0, 2500, 80);
    t.fillStyle = "#000000";
    t.font = `46.4px ${FONT}`;
    t.textAlign = "left";
    t.textBaseline = "alphabetic";
    t.fillText(TITLE, 151.5, 53.5);
    const l = labelRef.current!.getContext("2d")!;
    l.clearRect(0, 0, 80, 700);
    l.save();
    l.translate(50, 350);
    l.rotate(-Math.PI / 2);
    l.fillStyle = "#000000";
    l.font = `37.8px ${FONT}`;
    l.textAlign = "center";
    l.textBaseline = "alphabetic";
    l.fillText(Y_LABEL, 0, 0);
    l.restore();
  }, []);
  return (
    <>
      <canvas ref={titleRef} width={2500} height={80} style={{ position: "absolute", left: 0, top: 0 }} />
      <canvas ref={labelRef} width={80} height={700} style={{ position: "absolute", left: 0, top: 960 }} />
    </>
  );
}

export default function App() {
  return (
    <div style={{ position: "absolute", left: 0, top: 0, width: 2500, height: 2500, background: "#FFFFFF", overflow: "hidden" }}>
      <TextLayer />
      {PARAMETERS.map((name, i) => (
        <Panel key={name} name={name} points={SERIES[i]} col={i % NCOL} row={Math.floor(i / NCOL)} />
      ))}
    </div>
  );
}
